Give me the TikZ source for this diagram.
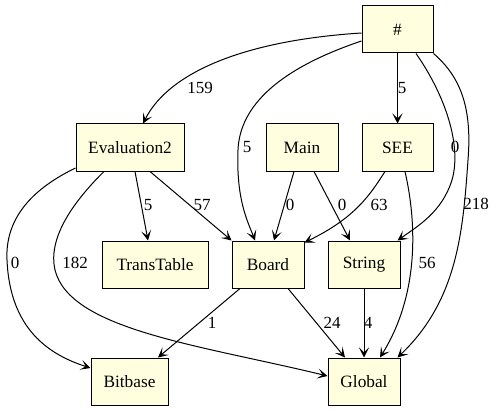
\documentclass[tikz,border=0pt]{standalone}
\usepackage{fontspec}
\setmainfont{Liberation Serif}
\newfontfamily\timesf{Liberation Serif}
\usetikzlibrary{arrows.meta}
\definecolor{boxfill}{HTML}{FFFFE0}
\begin{document}
\begin{tikzpicture}[x=1pt,y=-1pt,
  box/.style={draw=black,fill=boxfill,line width=1pt,inner sep=0pt,minimum height=47pt,font=\timesf\fontsize{17.3}{19}\selectfont},
  edge/.style={line width=1pt,-{Stealth[length=10pt,width=10pt,inset=5pt]}},
  lbl/.style={inner sep=0pt,font=\timesf\fontsize{17}{19}\selectfont}]
\useasboundingbox (0,0) rectangle (496,412);
\node[box,minimum width=71pt] (hash) at (397.5,29.5) {\#};
\node[box,minimum width=108pt] (eval) at (130,147.5) {Evaluation2};
\node[box,minimum width=72pt] (main) at (302,147.5) {Main};
\node[box,minimum width=71pt] (see) at (397.5,147.5) {SEE};
\node[box,minimum width=106pt] (trans) at (155,264.5) {TransTable};
\node[box,minimum width=72pt] (board) at (268,264.5) {Board};
\node[box,minimum width=72pt] (string) at (364,264.5) {String};
\node[box,minimum width=77pt] (bitbase) at (129.5,381.5) {Bitbase};
\node[box,minimum width=72pt] (global) at (364,381.5) {Global};

% edges
\draw[edge] ([yshift=-3.5pt]hash.west) .. controls (250,40) and (170,70) .. ([xshift=13pt]eval.north);
\draw[edge] ([yshift=-11.5pt]hash.west) .. controls (290,65) and (240,100) .. (238,150) .. controls (236,200) and (248,222) .. ([xshift=-13pt]board.north);
\draw[edge] (hash.south) -- (see.north);
\draw[edge] ([xshift=18.5pt]hash.south) .. controls (445,95) and (462,145) .. (452,180) .. controls (442,212) and (418,226) .. ([xshift=-3pt]string.north east);
\draw[edge] (hash.south east) .. controls (462,78) and (472,110) .. (468,160) .. controls (463,230) and (458,300) .. ([xshift=-3pt]global.north east);
\draw[edge] ([yshift=-20.5pt]eval.west) .. controls (30,190) and (5,220) .. (7,260) .. controls (10,330) and (50,355) .. ([yshift=13.5pt]bitbase.west);
\draw[edge] ([xshift=-26pt]eval.south) .. controls (70,205) and (48,240) .. (55,270) .. controls (70,330) and (200,345) .. ([yshift=5.5pt]global.west);
\draw[edge] ([xshift=5pt]eval.south) -- ([xshift=-7pt]trans.north);
\draw[edge] ([xshift=20pt]eval.south) -- (board.north west);
\draw[edge] ([xshift=-8pt]main.south) -- ([xshift=6pt]board.north);
\draw[edge] ([xshift=12pt]main.south) -- ([xshift=-14pt]string.north);
\draw[edge] ([xshift=-12.5pt]see.south) .. controls (370,195) and (355,218) .. ([yshift=-2pt]board.north east);
\draw[edge] ([xshift=7.5pt]see.south) .. controls (415,215) and (422,290) .. ([xshift=16pt]global.north);
\draw[edge] (string.south) -- (global.north);
\draw[edge] ([xshift=-28pt]board.south) -- ([xshift=28.5pt]bitbase.north);
\draw[edge] ([xshift=20pt]board.south) -- ([xshift=-19pt]global.north);

% labels
\node[lbl] (l1) at (200,88) {159};
\node[lbl] (l2) at (247,147) {5};
\node[lbl] (l3) at (402,88) {5};
\node[lbl] (l4) at (455,147) {0};
\node[lbl] (l5) at (476,204) {218};
\node[lbl] (l6) at (15,263) {0};
\node[lbl] (l7) at (75,263) {182};
\node[lbl] (l8) at (148,205) {5};
\node[lbl] (l9) at (202,205) {57};
\node[lbl] (l10) at (290,205) {0};
\node[lbl] (l11) at (342,205) {0};
\node[lbl] (l12) at (379,205) {63};
\node[lbl] (l13) at (427,263) {56};
\node[lbl] (l14) at (212,323) {1};
\node[lbl] (l15) at (332,323) {24};
\node[lbl] (l16) at (368,323) {4};
\end{tikzpicture}
\end{document}
